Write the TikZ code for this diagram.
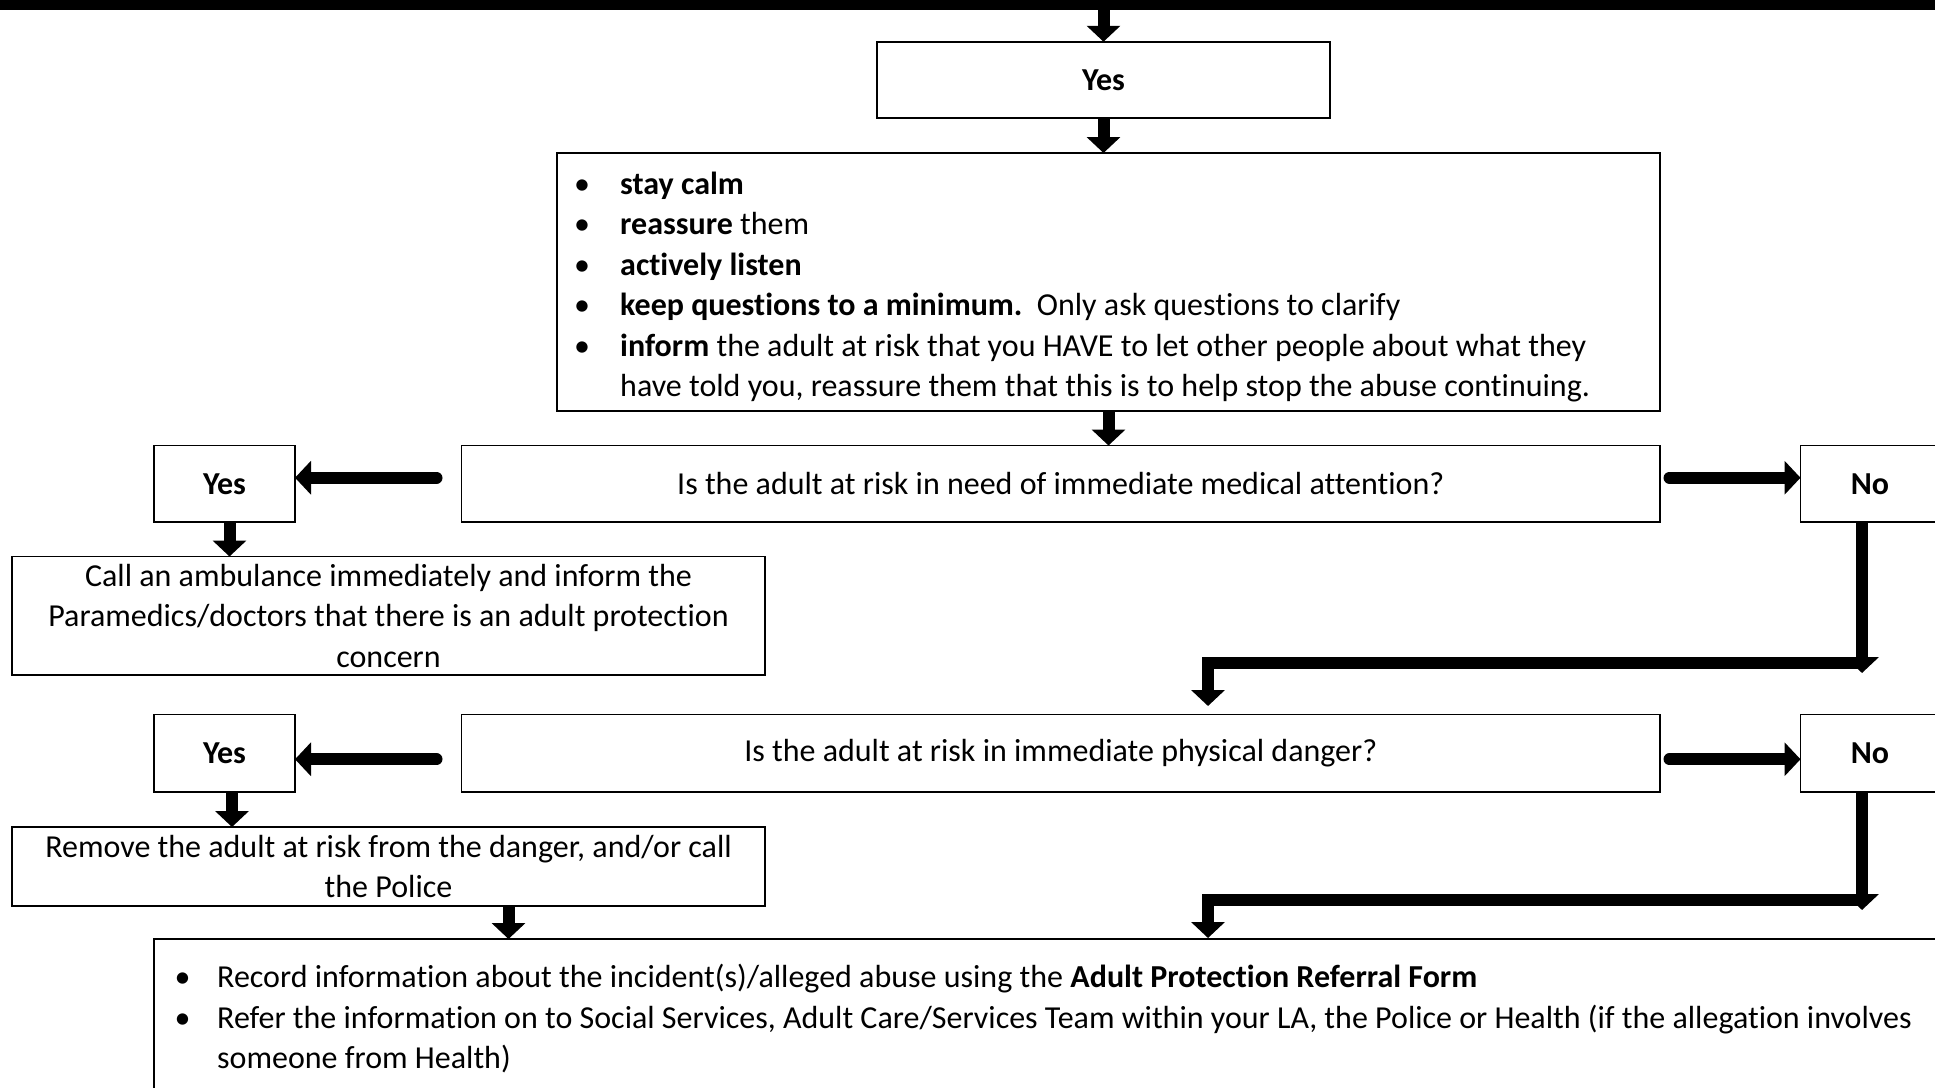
\documentclass[tikz,border=0pt]{standalone}
\usepackage{fontspec}
\setmainfont{Carlito}[Ligatures=NoCommon]
\usetikzlibrary{arrows.meta}

\tikzset{
  box/.style={draw, line width=1.8pt, inner sep=0pt, outer sep=0pt, align=center},
  flow/.style={line width=12pt, -{Triangle[width=33pt,length=16pt]}},
  side/.style={flow, line cap=round},
  listtext/.style={inner sep=0pt, align=left, anchor=west}
}
\newcommand{\blt}[1]{\makebox[#1][l]{\textbullet}}

\begin{document}
\begin{tikzpicture}[x=1pt, y=-1pt, font=\fontsize{32}{40.5}\selectfont]
\useasboundingbox (0,0) rectangle (1935,1087);
\clip (0,0) rectangle (1935,1087);
% boxes
\node[fill, minimum width=1935pt, minimum height=10pt, inner sep=0pt, outer sep=0pt, anchor=north west] (bar) at (0,0) {};
\node[box, minimum width=453pt, minimum height=76.5pt] (yesA) at (1103.5,80) {\textbf{Yes}};
\node[box, minimum width=1103pt, minimum height=258pt] (listA) at (1108.5,282) {};
\node[listtext] (listAtxt) at (574,287) {\blt{46pt}\textbf{stay calm}\\
  \blt{46pt}\textbf{reassure} them\\
  \blt{46pt}\textbf{actively listen}\\
  \blt{46pt}\textbf{keep questions to a minimum.}\ \ Only ask questions to clarify\\
  \blt{46pt}\textbf{inform} the adult at risk that you HAVE to let other people about what they\\
  \hspace*{46pt}have told you, reassure them that this is to help stop the abuse continuing.};
\node[box, minimum width=1198.5pt, minimum height=76.5pt] (qA) at (1060.75,483.75) {Is the adult at risk in need of immediate medical attention?};
\node[box, minimum width=141pt, minimum height=76.5pt] (yesB) at (224.5,483.75) {\textbf{Yes}};
\node[box, minimum width=139pt, minimum height=76.5pt] (noB) at (1870,483.75) {\textbf{No}};
\node[box, minimum width=753pt, minimum height=118.5pt] (ambA) at (388.5,615.75) {Call an ambulance immediately and inform the\\
  Paramedics/doctors that there is an adult protection\\ concern};
\node[box, minimum width=1198.5pt, minimum height=77.5pt] (qB) at (1060.75,753.25) {Is the adult at risk in immediate physical danger?};
\node[box, minimum width=141pt, minimum height=77.5pt] (yesC) at (224.5,753.25) {\textbf{Yes}};
\node[box, minimum width=139pt, minimum height=77.5pt] (noC) at (1870,753.25) {\textbf{No}};
\node[box, minimum width=753pt, minimum height=79pt] (remC) at (388.5,866.5) {Remove the adult at risk from the danger, and/or call\\ the Police};
\node[box, minimum width=1806pt, minimum height=171pt] (listB) at (1057,1024.5) {};
\node[listtext] (listBtxt) at (174.5,1019) {\blt{42.5pt}Record information about the incident(s)/alleged abuse using the \textbf{Adult Protection Referral Form}\\
  \blt{42.5pt}Refer the information on to Social Services, Adult Care/Services Team within your LA, the Police or Health (if the allegation involves\\
  \hspace*{42.5pt}someone from Health)};
% turning points
\coordinate (downA) at (1862,673);
\coordinate (turnA) at (1866,663);
\coordinate (dropA) at (1208,663);
\coordinate (downB) at (1862,910);
\coordinate (turnB) at (1866,900);
\coordinate (dropB) at (1208,900);
\coordinate (ybB) at ([xshift=5pt]yesB.south);
\coordinate (ybC) at ([xshift=7.5pt]yesC.south);
\coordinate (rmC) at ([xshift=120pt]remC.south);
% arrows
\draw[flow] (bar.south -| yesA.north) -- (yesA.north);
\draw[flow] (yesA.south) -- (yesA.south |- listA.north);
\draw[flow] (listA.south) -- (listA.south |- qA.north);
\draw[side, shorten <=25pt] ([yshift=6pt]qA.west) -- ([yshift=6pt]yesB.east);
\draw[side, shorten <=9.5pt] ([yshift=6pt]qA.east) -- ([yshift=6pt]noB.west);
\draw[flow] (ybB) -- (ybB |- ambA.north);
\draw[flow, shorten >=8.5pt] (turnA) -- (dropA) -- (dropA |- qB.north);
\draw[flow] (noB.south -| downA) -- (downA);
\draw[side, shorten <=25pt] ([yshift=-6pt]qB.west) -- ([yshift=-6pt]yesC.east);
\draw[side, shorten <=9.5pt] ([yshift=-6pt]qB.east) -- ([yshift=-6pt]noC.west);
\draw[flow] (ybC) -- (ybC |- remC.north);
\draw[flow] (rmC) -- (rmC |- listB.north);
\draw[flow, shorten >=1pt] (turnB) -- (dropB) -- (dropB |- listB.north);
\draw[flow] (noC.south -| downB) -- (downB);
\end{tikzpicture}
\end{document}
